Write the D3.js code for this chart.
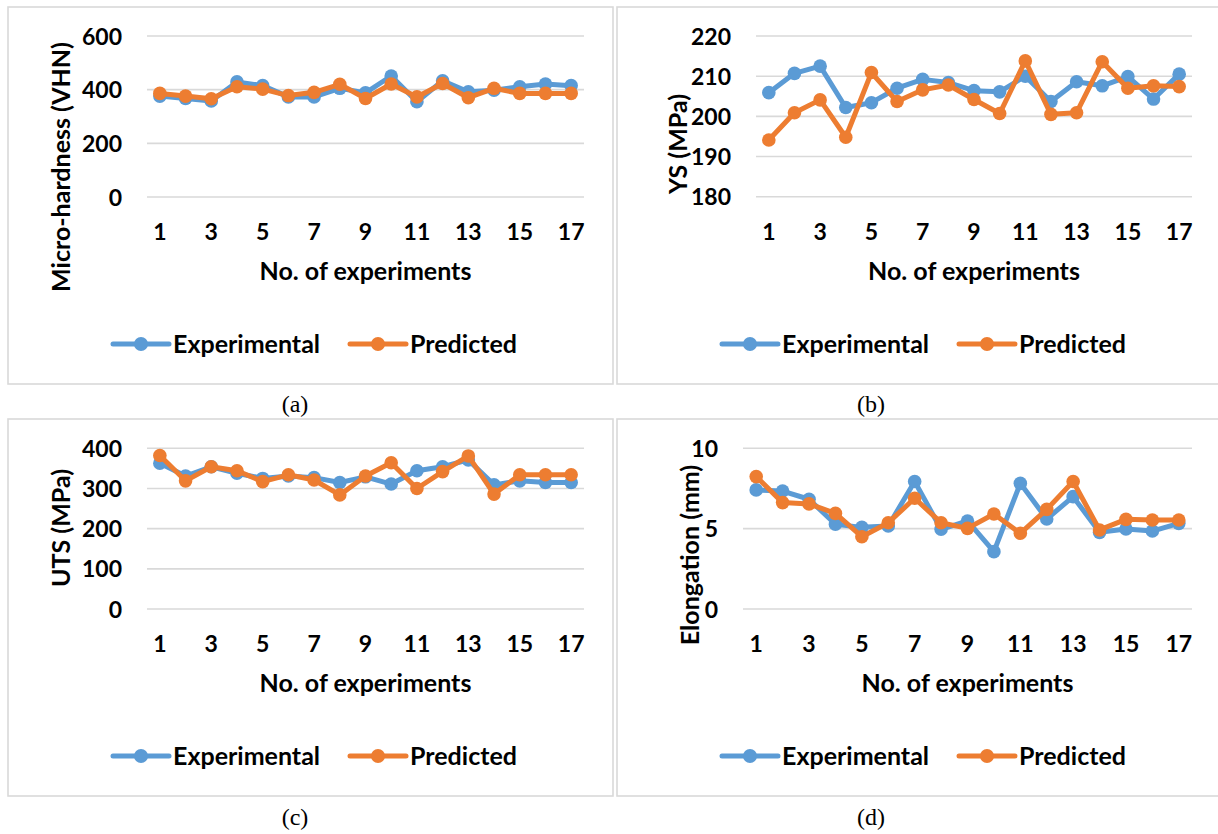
<!DOCTYPE html>
<html>
<head>
<meta charset="utf-8">
<script src="https://cdn.jsdelivr.net/npm/d3@7"></script>
<style>
  body { margin: 0; background: #fff; }
  svg { display: block; }
</style>
</head>
<body>
<svg id="chart" width="1218" height="834"></svg>
<script>
// Experiment numbers (category axis)
const experiments = [1, 2, 3, 4, 5, 6, 7, 8, 9, 10, 11, 12, 13, 14, 15, 16, 17];
const shownExperiments = [1, 3, 5, 7, 9, 11, 13, 15, 17];

// (a) Micro-hardness (VHN)
const hardnessExp  = [376, 367, 358, 429, 415, 373, 373, 405, 388, 451, 355, 433, 392, 398, 411, 421, 415];
const hardnessPred = [386, 376, 366, 411, 402, 378, 390, 420, 367, 421, 373, 423, 370, 405, 386, 386, 386];
const hardnessTicks = [0, 200, 400, 600];

// (b) Yield strength (MPa)
const ysExp  = [205.9, 210.7, 212.5, 202.2, 203.4, 207.0, 209.2, 208.4, 206.4, 206.1, 210.0, 203.7, 208.6, 207.6, 209.9, 204.3, 210.5];
const ysPred = [194.1, 200.9, 204.1, 194.8, 210.9, 203.7, 206.6, 207.8, 204.2, 200.7, 213.8, 200.5, 200.9, 213.6, 207.0, 207.6, 207.4];
const ysTicks = [180, 190, 200, 210, 220];

// (c) Ultimate tensile strength (MPa)
const utsExp  = [363, 331, 354, 338, 325, 331, 327, 315, 329, 311, 344, 354, 371, 309, 319, 315, 315];
const utsPred = [382, 319, 354, 344, 317, 334, 321, 284, 331, 364, 300, 342, 381, 286, 334, 334, 334];
const utsTicks = [0, 100, 200, 300, 400];

// (d) Elongation (mm)
const elongExp  = [7.41, 7.34, 6.83, 5.27, 5.08, 5.17, 7.93, 4.96, 5.48, 3.57, 7.82, 5.60, 6.99, 4.77, 4.98, 4.85, 5.33];
const elongPred = [8.24, 6.62, 6.54, 5.95, 4.50, 5.37, 6.89, 5.37, 5.02, 5.91, 4.71, 6.20, 7.93, 4.92, 5.58, 5.54, 5.54];
const elongTicks = [0, 5, 10];

const seriesNames = ["Experimental", "Predicted"];
const seriesColors = ["#5B9BD5", "#ED7D31"];

const FONT = "Lato, 'Open Sans', sans-serif";
const FS = 25;      // titles and legend
const FS_TICK = 23; // axis labels

const panels = [
  { frame: [8, 7, 605, 377], plot: [147, 584, 36, 197], domain: [0, 600], ticks: hardnessTicks,
    yTitle: "Micro-hardness (VHN)", yTitlePos: [70, 167], values: [hardnessExp, hardnessPred],
    caption: "(a)", capPos: [295, 412], legend: [113, 344] },
  { frame: [617, 7, 620, 377], plot: [756, 1192, 36, 196.7], domain: [180, 220], ticks: ysTicks,
    yTitle: "YS (MPa)", yTitlePos: [687, 144], values: [ysExp, ysPred],
    caption: "(b)", capPos: [871, 412], legend: [722, 344] },
  { frame: [8, 419, 605, 377], plot: [147, 584, 448.3, 609], domain: [0, 400], ticks: utsTicks,
    yTitle: "UTS (MPa)", yTitlePos: [70, 528], values: [utsExp, utsPred],
    caption: "(c)", capPos: [295, 825], legend: [113, 756] },
  { frame: [617, 419, 620, 377], plot: [743, 1192, 448.3, 609], domain: [0, 10], ticks: elongTicks,
    yTitle: "Elongation (mm)", yTitlePos: [699, 555], values: [elongExp, elongPred],
    caption: "(d)", capPos: [871, 825], legend: [722, 756] }
];

const svg = d3.select("#chart");

panels.forEach(p => {
  const g = svg.append("g");
  const [fx, fy, fw, fh] = p.frame;
  const [x0, x1, y0, y1] = p.plot;

  // chart frame
  g.append("rect")
    .attr("x", fx).attr("y", fy).attr("width", fw).attr("height", fh)
    .attr("fill", "#fff").attr("stroke", "#D9D9D9").attr("stroke-width", 1.6);

  const x = d3.scaleBand().domain(experiments).range([x0, x1]);
  const y = d3.scaleLinear().domain(p.domain).range([y1, y0]);
  const cx = d => x(d) + x.bandwidth() / 2;

  // horizontal gridlines
  g.append("g").selectAll("line").data(p.ticks).join("line")
    .attr("x1", x0).attr("x2", x1)
    .attr("y1", d => y(d)).attr("y2", d => y(d))
    .attr("stroke", "#D9D9D9").attr("stroke-width", 1.6);

  // value axis labels
  const yAxis = g.append("g").attr("transform", `translate(${x0 - 25},0)`)
    .call(d3.axisLeft(y).tickValues(p.ticks).tickSize(0).tickPadding(0).tickFormat(d3.format("d")));
  yAxis.select(".domain").remove();
  yAxis.selectAll("text")
    .attr("dy", "0.35em")
    .attr("font-family", FONT).attr("font-size", FS_TICK).attr("font-weight", 700).attr("fill", "#000");

  // category axis labels
  const xAxis = g.append("g").attr("transform", `translate(0,${y1 + 43})`)
    .call(d3.axisBottom(x).tickValues(shownExperiments).tickSize(0).tickPadding(0));
  xAxis.select(".domain").remove();
  xAxis.selectAll("text")
    .attr("y", 0).attr("dy", 0)
    .attr("font-family", FONT).attr("font-size", FS_TICK).attr("font-weight", 700).attr("fill", "#000");

  // axis titles
  g.append("text")
    .attr("x", (x0 + x1) / 2).attr("y", y1 + 83)
    .attr("text-anchor", "middle")
    .attr("font-family", FONT).attr("font-size", FS).attr("font-weight", 700)
    .text("No. of experiments");

  g.append("text")
    .attr("transform", `translate(${p.yTitlePos[0]},${p.yTitlePos[1]}) rotate(-90)`)
    .attr("text-anchor", "middle")
    .attr("font-family", FONT).attr("font-size", FS).attr("font-weight", 700)
    .text(p.yTitle);

  // series lines and markers
  const line = d3.line().x((d, i) => cx(experiments[i])).y(d => y(d));
  p.values.forEach((vals, si) => {
    g.append("path")
      .datum(vals)
      .attr("d", line)
      .attr("fill", "none")
      .attr("stroke", seriesColors[si])
      .attr("stroke-width", 5)
      .attr("stroke-linejoin", "round");
    g.append("g").selectAll("circle").data(vals).join("circle")
      .attr("cx", (d, i) => cx(experiments[i]))
      .attr("cy", d => y(d))
      .attr("r", 6.8)
      .attr("fill", seriesColors[si]);
  });

  // legend
  const [lx, ly] = p.legend;
  seriesNames.forEach((name, si) => {
    const ox = lx + si * 237;
    g.append("line")
      .attr("x1", ox).attr("x2", ox + 56).attr("y1", ly).attr("y2", ly)
      .attr("stroke", seriesColors[si]).attr("stroke-width", 5).attr("stroke-linecap", "round");
    g.append("circle").attr("cx", ox + 28).attr("cy", ly).attr("r", 7).attr("fill", seriesColors[si]);
    g.append("text")
      .attr("x", ox + 60).attr("y", ly + 8.5)
      .attr("font-family", FONT).attr("font-size", FS).attr("font-weight", 700)
      .text(name);
  });

  // caption below the frame
  svg.append("text")
    .attr("x", p.capPos[0]).attr("y", p.capPos[1])
    .attr("text-anchor", "middle")
    .attr("font-family", "'Liberation Serif', 'Times New Roman', serif")
    .attr("font-size", 24)
    .text(p.caption);
});
</script>
</body>
</html>
